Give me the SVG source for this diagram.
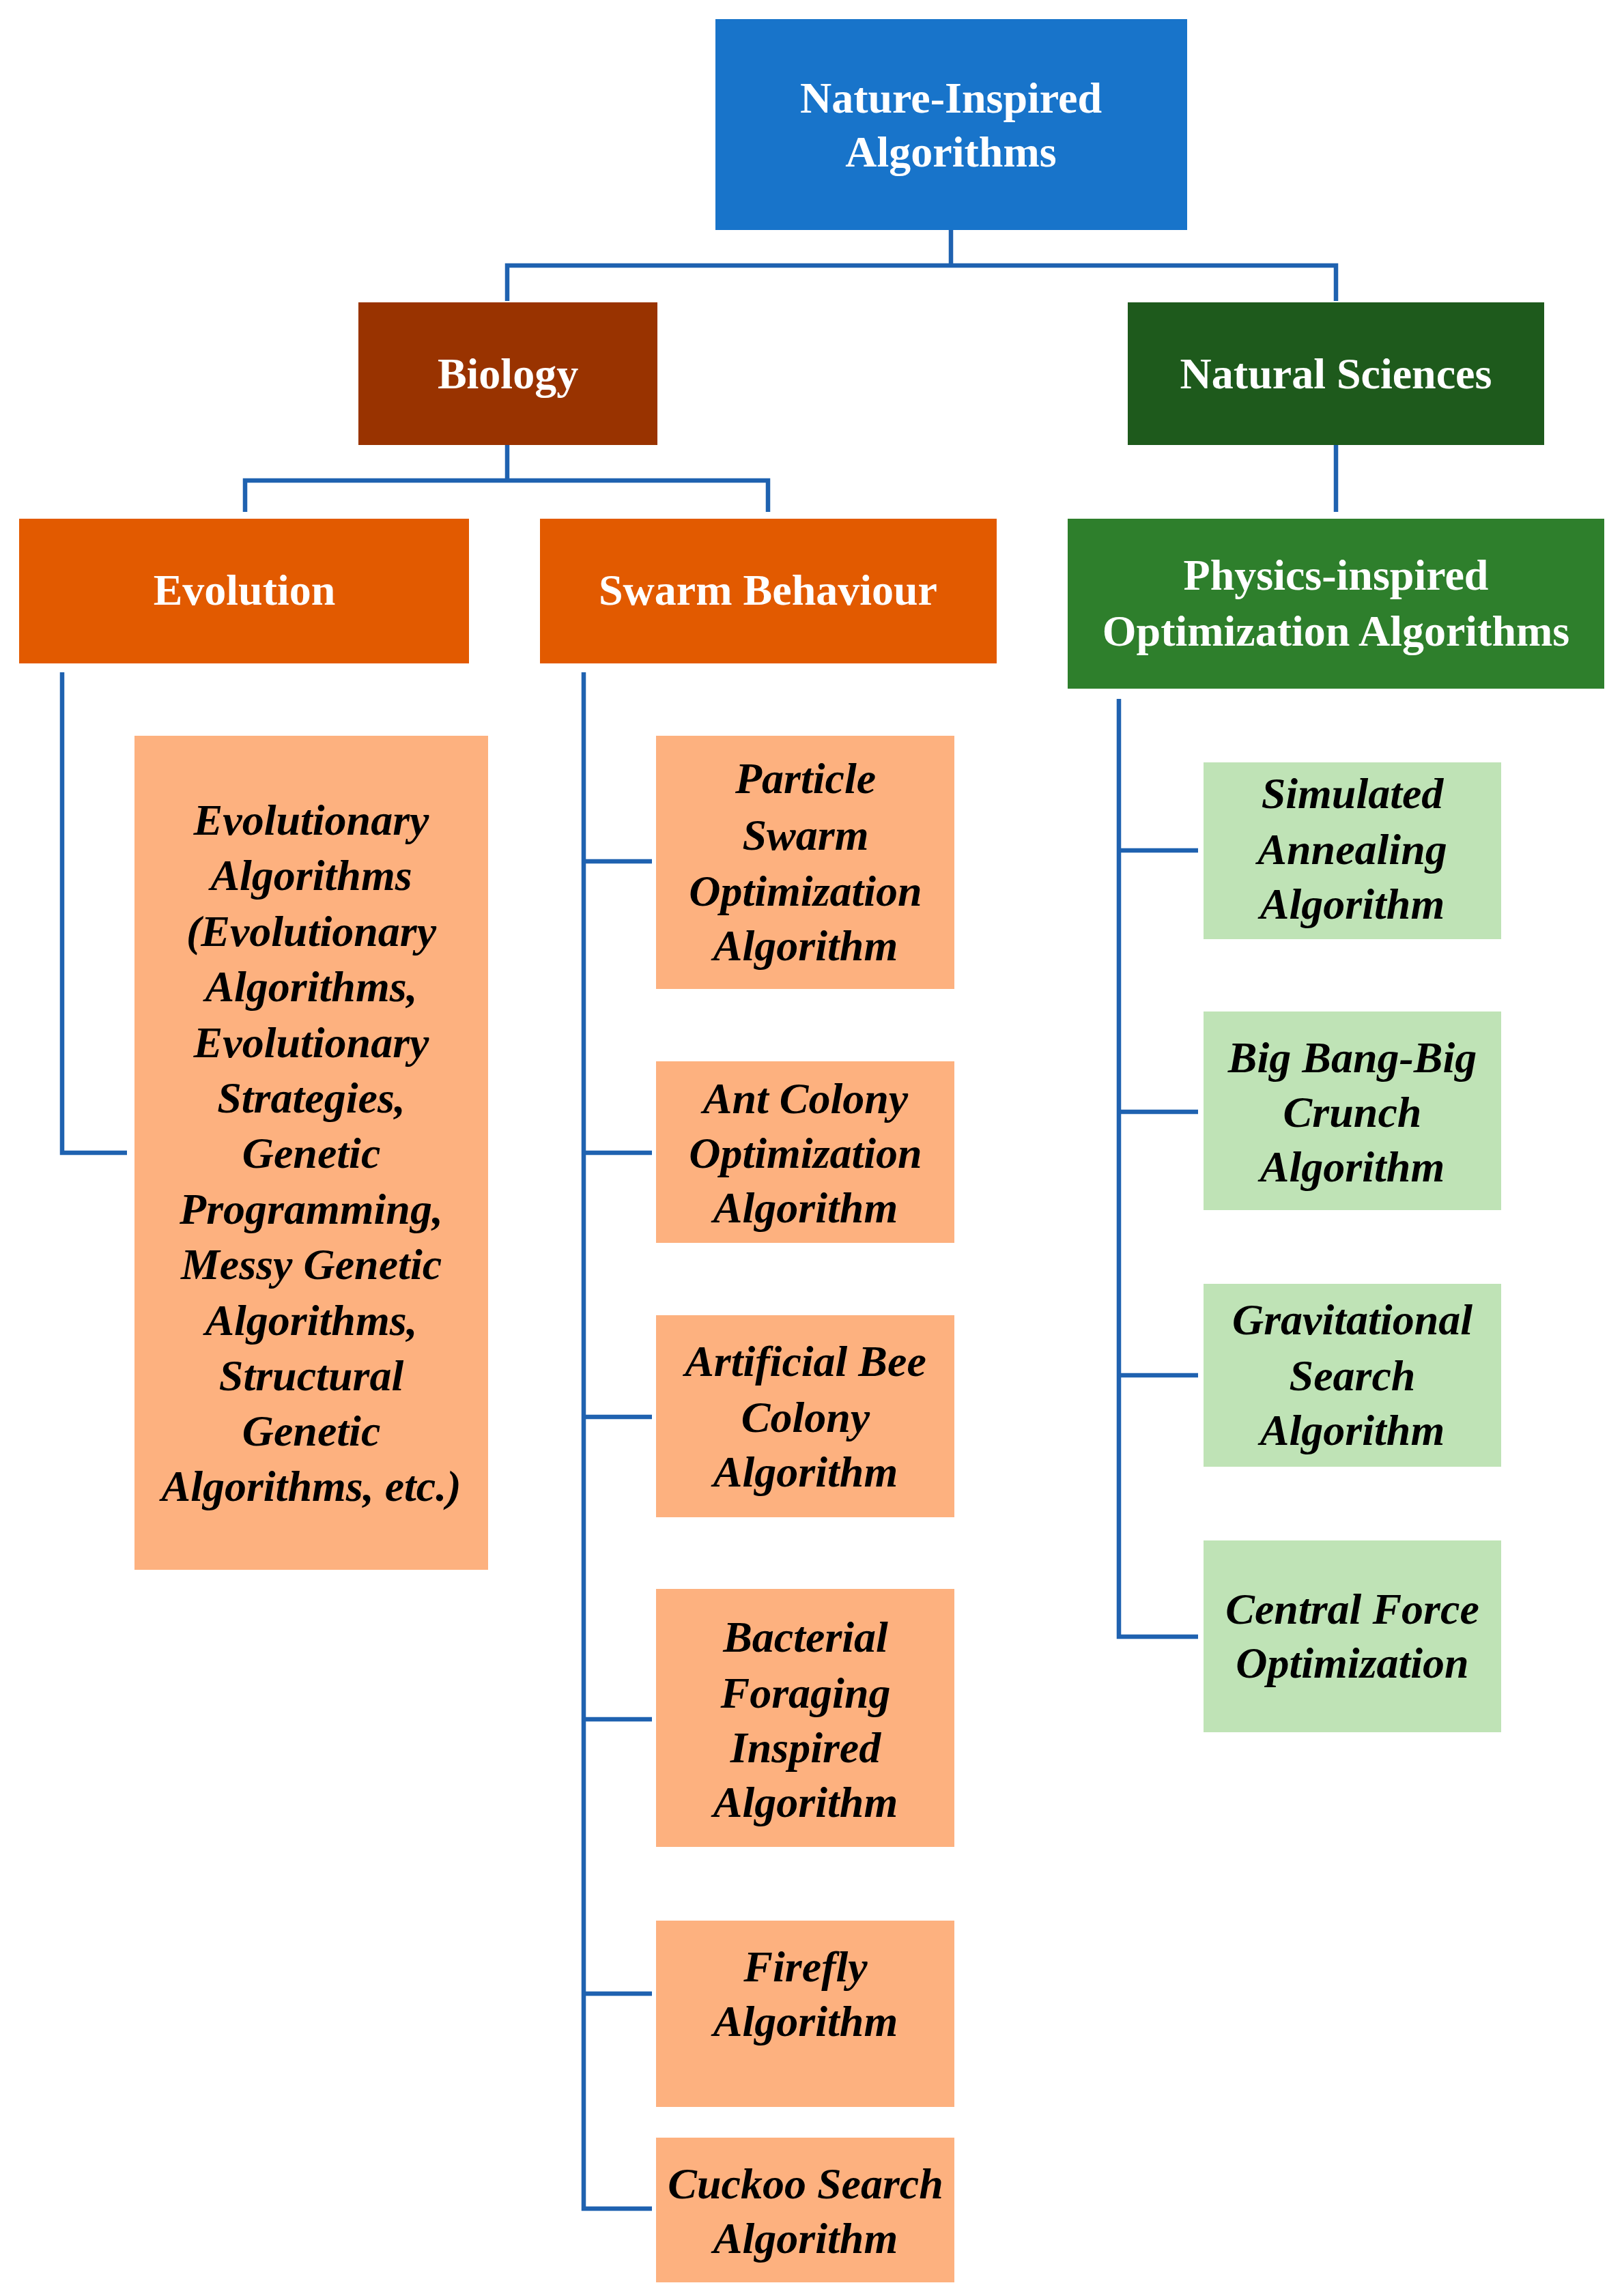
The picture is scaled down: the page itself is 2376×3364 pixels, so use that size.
<svg xmlns="http://www.w3.org/2000/svg" width="2376" height="3364" viewBox="0 0 2376 3364">
<style>
text{font-family:"Liberation Serif","DejaVu Serif",serif;font-weight:bold;font-size:64px;text-anchor:middle;dominant-baseline:central}
.h text{fill:#fff}
.l text{fill:#000;font-style:italic}
.c{fill:none;stroke:#1f62b0;stroke-width:6.5}
.o{fill:#fdb17f}.g{fill:#bfe3b6}
</style>
<rect width="2376" height="3364" fill="#fff"/>
<g id="connectors">
<path class="c" d="M1393 337V389M743 441V389H1957V441M743 652V704M359 750V704H1125V750M1957 652V750"/>
<path class="c" d="M91 985V1689H186"/>
<path class="c" d="M855 985V3236H955M855 1262H955M855 1689H955M855 2076H955M855 2519H955M855 2921H955"/>
<path class="c" d="M1639 1024V2398H1755M1639 1246H1755M1639 1629H1755M1639 2015H1755"/>
</g>
<g id="root" class="h"><rect x="1048" y="28" width="691" height="309" fill="#1874ca"/><text x="1393" y="143">Nature-Inspired</text><text x="1393" y="222">Algorithms</text></g>
<g id="biology" class="h"><rect x="525" y="443" width="438" height="209" fill="#993300"/><text x="744" y="547">Biology</text></g>
<g id="natsci" class="h"><rect x="1652" y="443" width="610" height="209" fill="#1e5a1c"/><text x="1957" y="547">Natural Sciences</text></g>
<g id="evolution" class="h"><rect x="28" y="760" width="659" height="212" fill="#e25a00"/><text x="358" y="864">Evolution</text></g>
<g id="swarm" class="h"><rect x="791" y="760" width="669" height="212" fill="#e25a00"/><text x="1125" y="864">Swarm Behaviour</text></g>
<g id="physics" class="h"><rect x="1564" y="760" width="786" height="249" fill="#2e7f2c"/><text x="1957" y="842">Physics-inspired</text><text x="1957" y="924">Optimization Algorithms</text></g>
<g id="ea" class="l"><rect class="o" x="197" y="1078" width="518" height="1222"/>
<text x="456" y="1201">Evolutionary</text><text x="456" y="1282">Algorithms</text><text x="456" y="1364">(Evolutionary</text><text x="456" y="1445">Algorithms,</text><text x="456" y="1527">Evolutionary</text><text x="456" y="1608">Strategies,</text><text x="456" y="1689">Genetic</text><text x="456" y="1771">Programming,</text><text x="456" y="1852">Messy Genetic</text><text x="456" y="1934">Algorithms,</text><text x="456" y="2015">Structural</text><text x="456" y="2096">Genetic</text><text x="456" y="2177">Algorithms, etc.)</text></g>
<g id="pso" class="l"><rect class="o" x="961" y="1078" width="437" height="371"/><text x="1180" y="1140">Particle</text><text x="1180" y="1223">Swarm</text><text x="1180" y="1305">Optimization</text><text x="1180" y="1385">Algorithm</text></g>
<g id="aco" class="l"><rect class="o" x="961" y="1555" width="437" height="266"/><text x="1180" y="1609">Ant Colony</text><text x="1180" y="1689">Optimization</text><text x="1180" y="1769">Algorithm</text></g>
<g id="abc" class="l"><rect class="o" x="961" y="1927" width="437" height="296"/><text x="1180" y="1994">Artificial Bee</text><text x="1180" y="2076">Colony</text><text x="1180" y="2156">Algorithm</text></g>
<g id="bfo" class="l"><rect class="o" x="961" y="2328" width="437" height="378"/><text x="1180" y="2398">Bacterial</text><text x="1180" y="2480">Foraging</text><text x="1180" y="2560">Inspired</text><text x="1180" y="2640">Algorithm</text></g>
<g id="firefly" class="l"><rect class="o" x="961" y="2814" width="437" height="273"/><text x="1180" y="2881">Firefly</text><text x="1180" y="2961">Algorithm</text></g>
<g id="cuckoo" class="l"><rect class="o" x="961" y="3132" width="437" height="212"/><text x="1180" y="3199">Cuckoo Search</text><text x="1180" y="3279">Algorithm</text></g>
<g id="sa" class="l"><rect class="g" x="1763" y="1117" width="436" height="259"/><text x="1981" y="1162">Simulated</text><text x="1981" y="1244">Annealing</text><text x="1981" y="1324">Algorithm</text></g>
<g id="bb" class="l"><rect class="g" x="1763" y="1482" width="436" height="291"/><text x="1981" y="1549">Big Bang-Big</text><text x="1981" y="1629">Crunch</text><text x="1981" y="1709">Algorithm</text></g>
<g id="gs" class="l"><rect class="g" x="1763" y="1881" width="436" height="268"/><text x="1981" y="1933">Gravitational</text><text x="1981" y="2015">Search</text><text x="1981" y="2095">Algorithm</text></g>
<g id="cf" class="l"><rect class="g" x="1763" y="2257" width="436" height="281"/><text x="1981" y="2357">Central Force</text><text x="1981" y="2436">Optimization</text></g>
</svg>
